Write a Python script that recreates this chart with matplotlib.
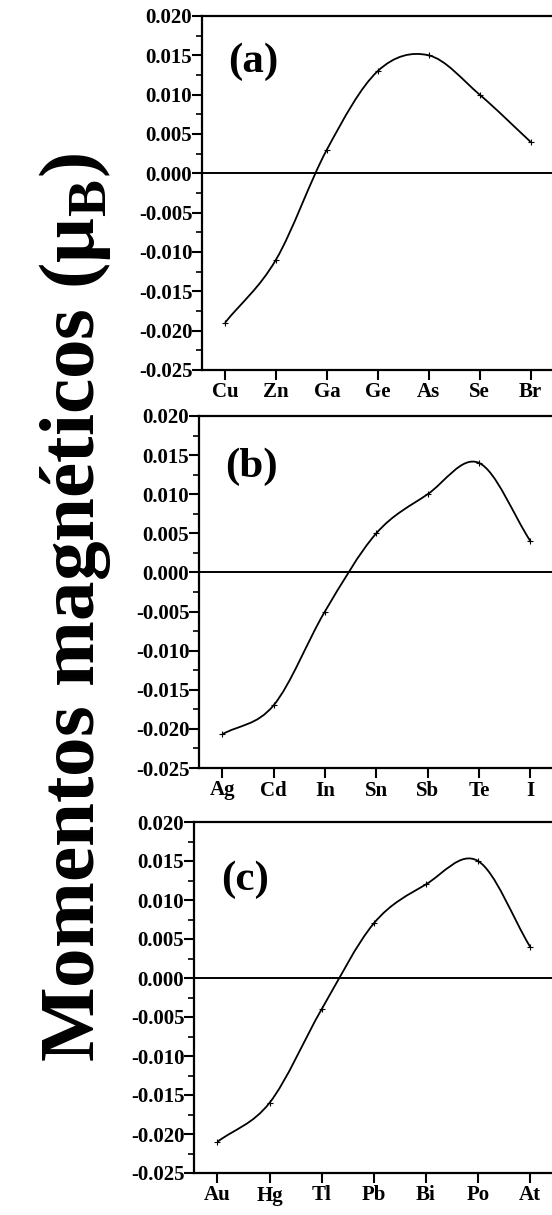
import numpy as np
import matplotlib.pyplot as plt
from matplotlib.path import Path
from matplotlib.patches import PathPatch
from matplotlib.ticker import MultipleLocator, FixedLocator, FuncFormatter

plt.rcParams['font.family'] = ['Liberation Serif', 'DejaVu Serif']
plt.rcParams['font.weight'] = 'bold'
plt.rcParams['mathtext.fontset'] = 'custom'
plt.rcParams['mathtext.rm'] = 'Liberation Serif:bold'
plt.rcParams['mathtext.bf'] = 'Liberation Serif:bold'

# datos
elems_a = ['Cu', 'Zn', 'Ga', 'Ge', 'As', 'Se', 'Br']
mom_a = [-0.019, -0.011, 0.003, 0.013, 0.015, 0.010, 0.004]

elems_b = ['Ag', 'Cd', 'In', 'Sn', 'Sb', 'Te', 'I']
mom_b = [-0.0207, -0.017, -0.005, 0.005, 0.010, 0.014, 0.004]

elems_c = ['Au', 'Hg', 'Tl', 'Pb', 'Bi', 'Po', 'At']
mom_c = [-0.021, -0.016, -0.004, 0.007, 0.012, 0.015, 0.004]

labels = ['(a)', '(b)', '(c)']

W, H = 552, 1215
fig = plt.figure(figsize=(W / 100, H / 100), dpi=100)

# rectangulos de los paneles en pixeles: izquierda, arriba, abajo
rects = [(202, 16, 370), (199, 416, 768), (194, 822, 1173)]
label_y = [0.87, 0.855, 0.835]


def smooth_path(x, y):
    # curva suave tipo spline (Catmull-Rom -> Bezier) a traves de los puntos
    x = np.asarray(x, float)
    y = np.asarray(y, float)
    px = np.concatenate([[2 * x[0] - x[1]], x, [2 * x[-1] - x[-2]]])
    py = np.concatenate([[2 * y[0] - y[1]], y, [2 * y[-1] - y[-2]]])
    verts = [(x[0], y[0])]
    codes = [Path.MOVETO]
    for i in range(1, len(px) - 2):
        c1 = (px[i] + (px[i + 1] - px[i - 1]) / 6, py[i] + (py[i + 1] - py[i - 1]) / 6)
        c2 = (px[i + 1] - (px[i + 2] - px[i]) / 6, py[i + 1] - (py[i + 2] - py[i]) / 6)
        verts += [c1, c2, (px[i + 1], py[i + 1])]
        codes += [Path.CURVE4] * 3
    return Path(verts, codes)


def fmt(v, pos):
    s = '%.3f' % v
    return '0.000' if s == '-0.000' else s


for (left, top, bot), elems, mom, lab, ly in zip(rects, [elems_a, elems_b, elems_c],
                                                [mom_a, mom_b, mom_c], labels, label_y):
    ax = fig.add_axes([left / W, 1 - bot / H, 1 - left / W, (bot - top) / H])
    xs = np.arange(len(elems))
    ax.add_patch(PathPatch(smooth_path(xs, mom), fill=False, color='black', lw=1.3))
    ax.plot(xs, mom, ls='none', marker='+', ms=4, mew=0.8, color='black')
    ax.axhline(0, color='black', lw=1.4)

    ax.set_xlim(-0.45, 6.42)
    ax.set_ylim(-0.025, 0.020)
    ax.xaxis.set_major_locator(FixedLocator(xs))
    ax.set_xticklabels(elems)
    ax.yaxis.set_major_locator(MultipleLocator(0.005))
    ax.yaxis.set_minor_locator(MultipleLocator(0.0025))
    ax.yaxis.set_major_formatter(FuncFormatter(fmt))

    ax.spines['right'].set_visible(False)
    for s in ['left', 'bottom', 'top']:
        ax.spines[s].set_linewidth(1.6)
    ax.tick_params(axis='both', which='major', direction='out', length=7, width=1.5,
                   labelsize=15)
    ax.tick_params(axis='y', which='minor', direction='out', length=4, width=1.2)
    ax.tick_params(axis='x', pad=2)
    ax.tick_params(axis='y', pad=0)
    for t in ax.get_xticklabels() + ax.get_yticklabels():
        t.set_fontweight('bold')

    ax.text(0.075, ly, lab, transform=ax.transAxes, fontsize=31, fontweight='bold',
            va='center', ha='left')

fig.text(75 / W, 1 - 607 / H, 'Momentos magnéticos (μ$_{\\mathbf{B}}$)',
         rotation=90, fontsize=57, fontweight='bold', ha='center', va='center')

fig.savefig('out.png', dpi=100)
